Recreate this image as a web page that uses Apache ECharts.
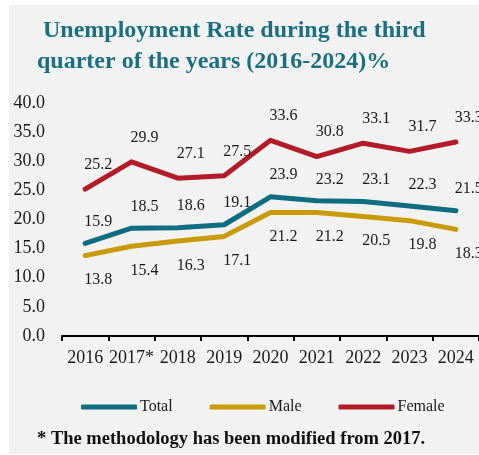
<!DOCTYPE html>
<html>
<head>
<meta charset="utf-8">
<script src="https://cdn.jsdelivr.net/npm/echarts@6/dist/echarts.min.js"></script>
<style>
  html, body { margin: 0; padding: 0; background: #ffffff; }
  #wrap { position: relative; width: 479px; height: 455px; overflow: hidden; }
  #panel { position: absolute; left: 9px; top: 5px; width: 470px; height: 449px; background: #f2f2f2; }
  #chart { position: absolute; left: 0; top: 0; width: 479px; height: 455px; }
</style>
</head>
<body>
<div id="wrap">
  <div id="panel"></div>
  <div id="chart"></div>
</div>
<script>
// Third-quarter unemployment rates by sex, 2016-2024 (%)
const years = ['2016', '2017*', '2018', '2019', '2020', '2021', '2022', '2023', '2024'];
const totalRate = [15.9, 18.5, 18.6, 19.1, 23.9, 23.2, 23.1, 22.3, 21.5];
const maleRate = [13.8, 15.4, 16.3, 17.1, 21.2, 21.2, 20.5, 19.8, 18.3];
const femaleRate = [25.2, 29.9, 27.1, 27.5, 33.6, 30.8, 33.1, 31.7, 33.3];
const yTicks = { min: 0, max: 40, step: 5 };

const SERIF = '"Liberation Serif", "DejaVu Serif", serif';
const COLORS = { total: '#0e6d80', male: '#c79a06', female: '#b11c28' };

function lineSeries(name, data, color, labelPos, labelOffset) {
  return {
    name: name,
    type: 'line',
    data: data,
    symbol: 'circle',
    symbolSize: 3,
    showSymbol: true,
    smooth: false,
    lineStyle: { color: color, width: 5, cap: 'round', join: 'round' },
    itemStyle: { color: color },
    label: {
      show: true,
      position: labelPos,
      distance: 0,
      offset: labelOffset,
      fontFamily: SERIF,
      fontSize: 16,
      color: '#1a1a1a',
      formatter: p => p.value.toFixed(1)
    },
    emphasis: { disabled: true }
  };
}

const chart = echarts.init(document.getElementById('chart'), null, { renderer: 'canvas' });
chart.setOption({
  backgroundColor: 'transparent',
  animation: false,
  title: [
    {
      text: 'Unemployment Rate during the third',
      left: 38, top: 14,
      textStyle: { fontFamily: SERIF, fontSize: 24, fontWeight: 'bold', color: '#1a6f80' }
    },
    {
      text: 'quarter of the years (2016-2024)%',
      left: 32, top: 45,
      textStyle: { fontFamily: SERIF, fontSize: 24, fontWeight: 'bold', color: '#1a6f80' }
    },
    {
      text: '* The methodology has been modified from 2017.',
      left: 32, top: 425,
      textStyle: { fontFamily: SERIF, fontSize: 18.5, fontWeight: 'bold', color: '#111111' }
    }
  ],
  legend: {
    left: 76, top: 394,
    itemWidth: 56, itemHeight: 5, itemGap: 37,
    icon: 'roundRect',
    textStyle: { fontFamily: SERIF, fontSize: 16, color: '#1a1a1a', padding: [0, 0, 0, -2] },
    data: ['Total', 'Male', 'Female']
  },
  grid: { left: 62, right: -2, top: 103, bottom: 119, containLabel: false },
  xAxis: {
    type: 'category',
    data: years,
    boundaryGap: true,
    axisLine: { show: true, lineStyle: { color: '#000000', width: 2 } },
    axisTick: { show: true, alignWithLabel: false, length: 5, inside: false, lineStyle: { color: '#000000', width: 2 } },
    axisLabel: { fontFamily: SERIF, fontSize: 18, color: '#1a1a1a', margin: 13, interval: 0 },
    splitLine: { show: false }
  },
  yAxis: {
    type: 'value',
    min: yTicks.min, max: yTicks.max, interval: yTicks.step,
    axisLine: { show: false },
    axisTick: { show: false },
    splitLine: { show: false },
    axisLabel: {
      fontFamily: SERIF, fontSize: 18, color: '#1a1a1a', margin: 17,
      formatter: v => v.toFixed(1)
    }
  },
  series: [
    lineSeries('Total', totalRate, COLORS.total, 'top', [13, -12]),
    lineSeries('Male', maleRate, COLORS.male, 'bottom', [13, 15]),
    lineSeries('Female', femaleRate, COLORS.female, 'top', [13, -15])
  ]
});
</script>
</body>
</html>
